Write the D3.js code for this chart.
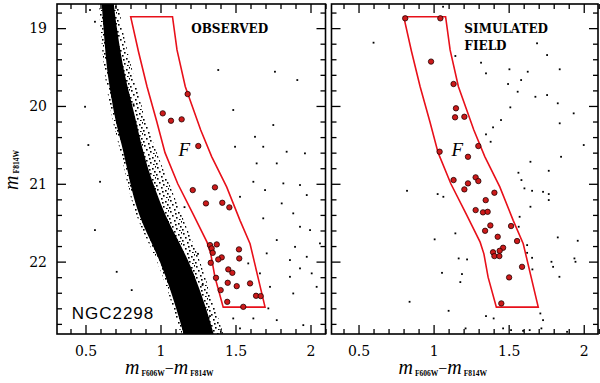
<!DOCTYPE html>
<html>
<head>
<meta charset="utf-8">
<script src="https://cdn.jsdelivr.net/npm/d3@7"></script>
<style>
body { margin: 0; background: #fff; }
</style>
</head>
<body>
<svg width="600" height="383"></svg>
<script>
var yTicks = [19, 20, 21, 22];
var xTicks = [0.5, 1, 1.5, 2];

// dense main sequence band of NGC2298 (observed panel only)
var msMag  = [18.6, 19.0, 19.3, 19.6, 19.9, 20.2, 20.5, 20.8, 21.1, 21.4, 21.7, 22.0, 22.3, 22.6, 23.0];
var msBlue = [0.605, 0.620, 0.632, 0.647, 0.673, 0.700, 0.742, 0.777, 0.810, 0.855, 0.925, 0.998, 1.055, 1.105, 1.165];
var msRed  = [0.683, 0.708, 0.733, 0.760, 0.800, 0.838, 0.872, 0.915, 0.970, 1.030, 1.110, 1.190, 1.250, 1.305, 1.365];
// outer edge of the sparse red-side spread (binaries)
var msHalo = [0.715, 0.745, 0.780, 0.820, 0.860, 0.905, 0.955, 1.015, 1.080, 1.140, 1.205, 1.265, 1.315, 1.365, 1.430];

// selection region F
var boxLeftMag  = [18.853, 19.3, 19.75, 20.2, 20.6, 21.0, 21.4, 21.75, 21.9, 22.2, 22.585];
var boxLeftCol  = [0.801, 0.853, 0.910, 0.975, 1.030, 1.115, 1.220, 1.310, 1.335, 1.363, 1.418];
var boxRightMag = [18.853, 19.28, 19.75, 20.31, 20.65, 21.04, 21.47, 21.77, 22.585];
var boxRightCol = [1.080, 1.110, 1.165, 1.268, 1.341, 1.441, 1.530, 1.597, 1.697];

// stars inside F: [colour, magnitude]
var obsStars = [
  [1.181, 19.847], [1.015, 20.095], [1.070, 20.190], [1.141, 20.172], [1.252, 20.515],
  [1.215, 21.081], [1.363, 21.046], [1.303, 21.252], [1.412, 21.244], [1.459, 21.303],
  [1.330, 21.788], [1.375, 21.779], [1.341, 21.830], [1.348, 21.887], [1.523, 21.843],
  [1.408, 21.946], [1.385, 21.972], [1.525, 21.959], [1.335, 22.015], [1.452, 22.100],
  [1.479, 22.144], [1.370, 22.208], [1.448, 22.272], [1.597, 22.280], [1.508, 22.315],
  [1.401, 22.366], [1.637, 22.439], [1.668, 22.443], [1.445, 22.517], [1.552, 22.581]
];
var simStars = [
  [0.811, 18.874], [1.045, 18.874], [0.983, 19.430], [1.133, 19.718], [1.149, 20.030],
  [1.143, 20.146], [1.205, 20.139], [1.298, 20.515], [1.040, 20.588], [1.229, 20.653],
  [1.133, 20.952], [1.280, 20.917], [1.298, 20.965], [1.229, 20.995], [1.205, 21.072],
  [1.405, 21.115], [1.347, 21.210], [1.280, 21.338], [1.329, 21.367], [1.360, 21.360],
  [1.378, 21.535], [1.343, 21.604], [1.516, 21.543], [1.427, 21.681], [1.556, 21.736],
  [1.463, 21.822], [1.440, 21.861], [1.396, 21.880], [1.405, 21.929], [1.438, 21.929],
  [1.589, 22.067], [1.503, 22.203], [1.451, 22.537]
];

// remaining field stars
var obsField = [
  [1.385, 19.538], [1.763, 19.560], [1.912, 19.667], [1.485, 20.052], [1.752, 20.245],
  [1.630, 20.396], [1.497, 20.524], [1.685, 20.524], [1.841, 20.588], [1.963, 20.609],
  [1.641, 20.738], [1.775, 20.738], [1.619, 20.974], [1.819, 20.995], [1.930, 21.016],
  [1.697, 21.081], [1.530, 21.167], [1.808, 21.252], [1.975, 21.145], [1.885, 21.380],
  [1.685, 21.444], [1.930, 21.552], [1.997, 21.595], [1.775, 21.723], [1.897, 21.810],
  [2.063, 21.766], [1.708, 21.894], [1.863, 21.980], [1.975, 21.938], [1.585, 22.023],
  [1.663, 22.151], [1.930, 22.087], [1.863, 22.195], [2.008, 22.151], [1.730, 22.324],
  [1.885, 22.409], [2.041, 22.324], [1.719, 22.601], [1.619, 22.730], [1.485, 22.730],
  [1.530, 22.858], [1.441, 22.495], [1.775, 22.752], [1.952, 22.816],
  [0.497, 20.010], [0.519, 20.502], [0.597, 20.974], [0.563, 21.595], [0.708, 22.131],
  [0.808, 22.366], [0.530, 18.767], [0.563, 18.918], [0.760, 19.600], [0.820, 19.980],
  [0.900, 20.900], [1.160, 21.300], [1.250, 21.900], [1.280, 22.300], [1.330, 22.700]
];
var simField = [
  [0.600, 19.187], [1.145, 19.358], [1.316, 19.444], [1.689, 19.195], [1.756, 19.346],
  [1.505, 19.529], [1.627, 19.560], [1.840, 19.529], [1.349, 19.581], [1.583, 19.667],
  [1.496, 19.718], [1.560, 19.817], [1.678, 19.882], [1.756, 19.860], [1.827, 19.966],
  [1.511, 20.018], [1.933, 20.095], [1.840, 20.223], [1.449, 20.181], [1.396, 20.275],
  [1.349, 20.365], [1.380, 20.460], [2.000, 20.502], [1.645, 20.717], [1.849, 20.653],
  [1.767, 20.833], [1.565, 20.858], [1.585, 20.952], [1.605, 21.059], [1.656, 21.090],
  [1.729, 21.103], [1.767, 21.132], [0.823, 21.090], [1.027, 21.132], [1.065, 21.167],
  [1.767, 21.209], [1.645, 21.295], [1.573, 21.424], [1.567, 21.552], [1.827, 21.689],
  [1.960, 21.732], [1.623, 21.788], [1.007, 21.714], [1.145, 21.637], [1.623, 21.887],
  [1.167, 21.959], [1.223, 21.972], [1.656, 21.951], [1.785, 22.002], [1.938, 21.959],
  [1.945, 22.002], [1.796, 22.067], [1.056, 22.144], [1.189, 22.160], [1.658, 22.100],
  [1.838, 22.195], [1.178, 22.263], [0.840, 22.516], [1.100, 22.632], [1.349, 22.700],
  [1.400, 22.730], [1.711, 22.666], [1.729, 22.752], [1.213, 22.858], [1.463, 22.858],
  [1.516, 22.880], [1.596, 22.889], [1.640, 22.880], [1.718, 22.858], [1.889, 22.902],
  [1.063, 18.725]
];

var svg = d3.select("svg"),
    top0 = 4, bottom0 = 334;

var y = d3.scaleLinear().domain([18.69, 22.93]).range([top0, bottom0]);

var defs = svg.append("defs");
var pat = defs.append("pattern")
    .attr("id", "spread")
    .attr("patternUnits", "userSpaceOnUse")
    .attr("width", 13).attr("height", 11);
[[1, 2], [5, 0], [9, 3], [3, 6], [7, 8], [11, 6], [0, 9], [10, 10], [6, 4], [12, 1]].forEach(function(p) {
    pat.append("rect").attr("x", p[0]).attr("y", p[1]).attr("width", 1.6).attr("height", 1.6).attr("fill", "#000");
});

var serif = "'DejaVu Serif', serif";
var yMinor = d3.range(188, 230, 2).map(function(v) { return v / 10; }).filter(function(v) { return v % 1 !== 0; });
var xMinor = d3.range(4, 22, 1).map(function(v) { return v / 10; }).filter(function(v) { return Math.round(v * 10) % 5 !== 0; });

function panel(id, x0, x1, dom, opts) {
    var x = d3.scaleLinear().domain(dom).range([x0, x1]);
    var g = svg.append("g");

    defs.append("clipPath").attr("id", "clip" + id)
        .append("rect").attr("x", x0).attr("y", top0).attr("width", x1 - x0).attr("height", bottom0 - top0);
    var plot = g.append("g").attr("clip-path", "url(#clip" + id + ")");

    if (opts.ms) {
        var band = d3.area()
            .y(function(d, i) { return y(msMag[i]); })
            .x0(function(d, i) { return x(msBlue[i]); })
            .x1(function(d, i) { return x(msRed[i]); })
            .curve(d3.curveBasis);
        var halo = d3.area()
            .y(function(d, i) { return y(msMag[i]); })
            .x0(function(d, i) { return x(msBlue[i] - 0.02); })
            .x1(function(d, i) { return x(msHalo[i]); })
            .curve(d3.curveBasis);
        plot.append("path").datum(msMag).attr("d", halo).attr("fill", "url(#spread)");
        plot.append("path").datum(msMag).attr("d", band).attr("fill", "#000");
    }

    plot.selectAll("rect.field").data(opts.field).enter().append("rect")
        .attr("class", "field")
        .attr("x", function(d) { return x(d[0]) - 0.9; })
        .attr("y", function(d) { return y(d[1]) - 0.9; })
        .attr("width", 1.8).attr("height", 1.8)
        .attr("fill", "#000");

    // region F outline
    var outline = boxLeftCol.map(function(c, i) { return [x(c), y(boxLeftMag[i])]; })
        .concat(boxRightCol.map(function(c, i) { return [x(c), y(boxRightMag[i])]; }).reverse());
    plot.append("path")
        .attr("d", d3.line()(outline) + "Z")
        .attr("fill", "none")
        .attr("stroke", "#e8101a")
        .attr("stroke-width", 1.6);

    plot.selectAll("circle.sel").data(opts.stars).enter().append("circle")
        .attr("class", "sel")
        .attr("cx", function(d) { return x(d[0]); })
        .attr("cy", function(d) { return y(d[1]); })
        .attr("r", 2.7)
        .attr("fill", "#cc1a1a")
        .attr("stroke", "#200")
        .attr("stroke-width", 0.8);

    // ticks on all four sides, pointing inward
    function ticks(axis, tr) {
        var a = g.append("g").attr("transform", tr).call(axis);
        a.select(".domain").remove();
        a.selectAll("line").attr("stroke", "#000").attr("stroke-width", 1.3);
        return a;
    }
    var yl = ticks(d3.axisLeft(y).tickValues(yTicks).tickSize(-9).tickPadding(10)
        .tickFormat(opts.yLabels ? d3.format("d") : ""), "translate(" + x0 + ",0)");
    ticks(d3.axisLeft(y).tickValues(yMinor).tickSize(-5).tickFormat(""), "translate(" + x0 + ",0)");
    ticks(d3.axisRight(y).tickValues(yTicks).tickSize(-9).tickFormat(""), "translate(" + x1 + ",0)");
    ticks(d3.axisRight(y).tickValues(yMinor).tickSize(-5).tickFormat(""), "translate(" + x1 + ",0)");
    var xb = ticks(d3.axisBottom(x).tickValues(xTicks).tickSize(-9).tickPadding(12)
        .tickFormat(function(d) { return d; }), "translate(0," + bottom0 + ")");
    ticks(d3.axisBottom(x).tickValues(xMinor).tickSize(-5).tickFormat(""), "translate(0," + bottom0 + ")");
    ticks(d3.axisTop(x).tickValues(xTicks).tickSize(-9).tickFormat(""), "translate(0," + top0 + ")");
    ticks(d3.axisTop(x).tickValues(xMinor).tickSize(-5).tickFormat(""), "translate(0," + top0 + ")");

    [yl, xb].forEach(function(a) {
        a.selectAll("text").attr("font-family", serif).attr("font-size", 14).attr("fill", "#000");
    });

    g.append("rect")
        .attr("x", x0).attr("y", top0)
        .attr("width", x1 - x0).attr("height", bottom0 - top0)
        .attr("fill", "none").attr("stroke", "#000").attr("stroke-width", 1.6);

    // x axis title
    var t = g.append("text")
        .attr("x", (x0 + x1) / 2 - 22).attr("y", 374)
        .attr("text-anchor", "middle")
        .attr("font-family", "'Liberation Serif', serif");
    t.append("tspan").attr("font-style", "italic").attr("font-size", 20).text("m");
    t.append("tspan").attr("font-size", 7.5).attr("font-weight", "bold").attr("dx", 2).attr("dy", 2).text("F606W");
    t.append("tspan").attr("font-size", 16).attr("dy", -2).text("\u2212");
    t.append("tspan").attr("font-style", "italic").attr("font-size", 20).text("m");
    t.append("tspan").attr("font-size", 7.5).attr("font-weight", "bold").attr("dx", 2).attr("dy", 2).text("F814W");

    g.append("text")
        .attr("x", x(1.12)).attr("y", y(20.64))
        .attr("font-family", "'Liberation Serif', serif")
        .attr("font-style", "italic").attr("font-size", 19)
        .text("F");

    opts.title.forEach(function(s, i) {
        g.append("text")
            .attr("x", x(1.205)).attr("y", 33 + i * 17)
            .attr("font-family", serif).attr("font-weight", "bold")
            .attr("font-size", 12)
            .text(s);
    });
    return x;
}

var xL = panel("L", 57, 325.5, [0.31, 2.1], {
    ms: true, field: obsField, stars: obsStars, yLabels: true, title: ["OBSERVED"]
});
panel("R", 331.5, 598, [0.32, 2.095], {
    ms: false, field: simField, stars: simStars, yLabels: false, title: ["SIMULATED", "FIELD"]
});

svg.append("text")
    .attr("x", xL(0.408)).attr("y", 318.5)
    .attr("font-family", "'Liberation Sans', sans-serif")
    .attr("font-size", 17).attr("letter-spacing", 1)
    .text("NGC2298");

// y axis title
var yt = svg.append("text")
    .attr("transform", "translate(18,170) rotate(-90)")
    .attr("text-anchor", "middle")
    .attr("font-family", "'Liberation Serif', serif");
yt.append("tspan").attr("font-style", "italic").attr("font-size", 20).text("m");
yt.append("tspan").attr("font-size", 7.5).attr("font-weight", "bold").attr("dx", 2).attr("dy", 1).text("F814W");
</script>
</body>
</html>
